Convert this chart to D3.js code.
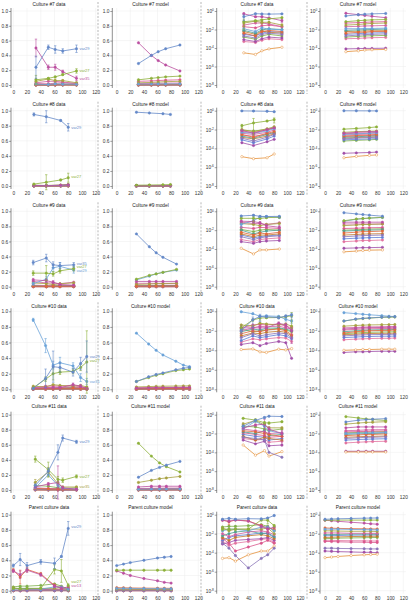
<!DOCTYPE html>
<html><head><meta charset="utf-8">
<script src="https://cdn.jsdelivr.net/npm/d3@7"></script>
<style>body{margin:0;background:#fff} text{font-family:"Liberation Sans",Arial,sans-serif}</style>
</head><body><svg id="c" width="410" height="604"></svg>
<script>
// ---------- DATA ----------
const cultureNames = ["Culture #7","Culture #8","Culture #9","Culture #10","Culture #11","Parent culture"];
const xTicks = [0,20,40,60,80,100,120];
const yTicksLin = [0,0.2,0.4,0.6,0.8,1.0];
const yTicksLog = [1,1e-2,1e-4,1e-6,1e-8];
const logTickExp = ["0","-2","-4","-6","-8"];

const t7 = [33,51,61,72,92], t7m = [32,51,61,72,93];
const t8 = [30,48,69,80], t8m = [29,48,68,79];
const t9 = [29,48,58,68,88];
const t10 = [29,47,58,68,87,98,107];
const t11 = [32,51,65,72,92], t11m = [32,51,63,73,93];
const tP = [0,10,20,40,60,70,80];

const c7Data = [
 [0.24,0.51,0.48,0.46,0.49],[0.07,0.09,0.11,0.14,0.19],[0.50,0.24,0.24,0.18,0.09],
 [0.012,0.006,0.015,0.011,0.009],[0.004,0.002,0.006,0.008,0.006],[0.05,0.08,0.06,0.06,0.03],
 [0.002,0.0012,0.003,0.004,0.003],[3e-5,2e-5,5e-5,8e-5,1.2e-4],[0.03,0.05,0.05,0.04,0.02],
 [0.008,0.004,0.009,0.012,0.01],[0.006,0.003,0.007,0.005,0.004],[0.02,0.015,0.025,0.03,0.02],
 [0.003,0.002,0.004,0.006,0.005],[8e-4,5e-4,1e-3,1.5e-3,1.2e-3],[1.5e-3,9e-4,2e-3,3e-3,2e-3],
 [5e-4,4e-4,7e-4,1e-3,8e-4]];
const c7Err = [[0.15,0.03,0.05,0.03,0.05],[0.06,0.01,0.01,0.01,0.03],[0.12,0.03,0.04,0.02,0.03],
 null,null,[0.03,0.01,0.02,0.01,0.01]];
const c7Model = [
 [0.29,0.40,0.45,0.49,0.54],[0.07,0.09,0.10,0.11,0.12],[0.57,0.40,0.33,0.27,0.19],
 [0.012,0.012,0.013,0.013,0.014],[0.004,0.005,0.005,0.006,0.006],[0.03,0.035,0.04,0.045,0.05],
 [0.002,0.0025,0.0028,0.003,0.0033],[4e-5,5e-5,6e-5,6.5e-5,7e-5],[0.02,0.022,0.024,0.025,0.027],
 [0.008,0.009,0.0095,0.01,0.011],[0.006,0.0065,0.007,0.0072,0.0075],[0.05,0.055,0.06,0.065,0.07],
 [0.003,0.0035,0.004,0.0042,0.0045],[8e-5,8.5e-5,9e-5,9e-5,9.5e-5],[1.5e-3,1.8e-3,2e-3,2.1e-3,2.3e-3],
 [1e-3,1.1e-3,1.2e-3,1.3e-3,1.4e-3]];
const c7Labels = [["var29",0,0.49],["var27",1,0.19],["var35",2,0.09]];

const c8Data = [
 [0.95,0.92,0.87,0.78],[0.025,0.05,0.08,0.11],[0.008,0.004,0.01,0.015],
 [0.005,0.004,0.007,0.012],[0.003,0.0015,0.004,0.006],[0.01,0.006,0.012,0.02],
 [1.2e-3,6e-4,1.5e-3,3e-3],[1.3e-5,8e-6,1e-5,2.5e-5],[0.004,0.003,0.005,0.009],
 [0.002,0.0012,0.003,0.005],[1.5e-3,1e-3,2e-3,3.5e-3],[0.006,0.005,0.009,0.014],
 [8e-4,4e-4,1e-3,2e-3],[4e-4,2e-4,5e-4,9e-4],[0.008,0.007,0.01,0.016],[2.5e-3,2e-3,3e-3,4e-3]];
const c8Err = [[0.02,0.08,0.01,0.05],[0.01,0.1,0.01,0.06]];
const c8Model = [
 [0.98,0.97,0.96,0.95],[0.011,0.013,0.016,0.019],[0.004,0.005,0.006,0.006],
 [0.003,0.0035,0.004,0.0045],[0.002,0.0023,0.0026,0.003],[0.005,0.006,0.0065,0.007],
 [1e-3,1.2e-3,1.4e-3,1.5e-3],[1e-5,1.4e-5,1.8e-5,2e-5],[2.5e-3,3e-3,3.3e-3,3.6e-3],
 [1.5e-3,1.7e-3,2e-3,2.2e-3],[1.2e-3,1.4e-3,1.6e-3,1.7e-3],[3.5e-3,4e-3,4.5e-3,5e-3],
 [8e-4,9e-4,1e-3,1.1e-3],[3e-5,3.3e-5,3.6e-5,4e-5],[6e-4,7e-4,8e-4,9e-4],[1.8e-3,2e-3,2.3e-3,2.5e-3]];
const c8Labels = [["var29",0,0.78],["var27",1,0.12]];

const c9Data = [
 [0.32,0.38,0.29,0.28,0.29],[0.18,0.18,0.17,0.21,0.24],[0.09,0.08,0.06,0.03,0.02],
 [0.04,0.10,0.25,0.27,0.22],[0.006,0.003,0.005,0.004,0.006],[0.05,0.04,0.03,0.04,0.05],
 [0.002,0.001,0.0015,0.002,0.0025],[1.2e-4,3e-5,8e-5,8e-5,1e-4],[0.07,0.05,0.05,0.04,0.06],
 [0.01,0.004,0.006,0.008,0.01],[0.004,0.002,0.003,0.003,0.004],[0.02,0.015,0.02,0.018,0.015],
 [0.003,0.0015,0.002,0.0025,0.003],[6e-4,4e-4,6e-4,7e-4,8e-4],[0.012,0.007,0.01,0.012,0.01],
 [1e-3,6e-4,1e-3,1.2e-3,1.5e-3]];
const c9Err = [[0.03,0.05,0.04,0.04,0.03],[0.03,0.1,0.03,0.03,0.03],[0.02,0.02,0.02,0.01,0.01],
 [0.02,0.04,0.05,0.05,0.04]];
const c9Model = [
 [0.70,0.53,0.45,0.39,0.30],[0.10,0.15,0.17,0.19,0.23],[0.07,0.07,0.07,0.07,0.07],
 [0.09,0.14,0.17,0.19,0.22],[0.005,0.006,0.007,0.007,0.008],[0.03,0.035,0.04,0.04,0.045],
 [0.002,0.0024,0.0026,0.0028,0.003],[5e-5,6e-5,7e-5,7.5e-5,8e-5],[0.045,0.045,0.045,0.045,0.045],
 [0.008,0.009,0.01,0.01,0.011],[0.003,0.0035,0.0038,0.004,0.0042],[0.015,0.016,0.017,0.018,0.019],
 [1.2e-3,1.4e-3,1.5e-3,1.6e-3,1.7e-3],[1.2e-4,1.3e-4,1.4e-4,1.4e-4,1.5e-4],[0.01,0.011,0.012,0.013,0.014],
 [6e-4,7e-4,8e-4,8e-4,9e-4]];
const c9Labels = [["var35",0,0.31],["var27",1,0.26],["var29",3,0.21]];

const c10Data = [
 [0.01,0.14,0.29,0.28,0.22,0.33,0.42],[0.02,0.13,0.20,0.22,0.23,0.28,0.35],[0.02,0.02,0.02,0.02,0.06,0.04,0.01],
 [0.89,0.56,0.31,0.34,0.30,0.15,0.10],[0.005,0.01,0.008,0.012,0.015,0.01,0.004],[0.04,0.03,0.06,0.05,0.04,0.05,0.03],
 [0.002,0.005,0.003,0.004,0.006,0.005,0.002],[1.2e-4,1.4e-4,7e-5,6e-5,1.3e-4,1.1e-4,1.5e-4],[0.01,0.02,0.03,0.025,0.03,0.02,0.015],
 [0.008,0.015,0.012,0.018,0.02,0.015,0.01],[0.003,0.006,0.005,0.007,0.009,0.007,0.003],[0.02,0.04,0.045,0.04,0.05,0.03,0.02],
 [1e-3,3e-3,2e-3,2.5e-3,4e-3,3e-3,1.5e-3],[4e-4,6e-4,3e-4,5e-4,8e-4,6e-4,1.5e-5],[0.015,0.008,0.01,0.012,0.018,0.012,0.008],
 [7e-4,1.5e-3,1.2e-3,1.5e-3,2e-3,1.8e-3,8e-4]];
const c10Err = [[0.005,0.12,0.2,0.06,0.05,0.08,0.2],[0.01,0.03,0.08,0.03,0.03,0.04,0.4],[0.01,0.01,0.01,0.01,0.02,0.02,0.01],
 [0.02,0.09,0.05,0.07,0.04,0.05,0.04]];
const c10Model = [
 [0.10,0.16,0.19,0.21,0.25,0.27,0.28],[0.10,0.15,0.18,0.20,0.24,0.25,0.26],[0.015,0.018,0.02,0.021,0.022,0.023,0.023],
 [0.72,0.58,0.50,0.44,0.36,0.31,0.29],[0.006,0.008,0.009,0.01,0.011,0.011,0.012],[0.03,0.035,0.038,0.04,0.042,0.043,0.044],
 [0.003,0.0035,0.0038,0.004,0.0042,0.0043,0.0044],[1e-4,1.1e-4,1.2e-4,1.2e-4,1.3e-4,1.3e-4,1.3e-4],[0.02,0.022,0.024,0.025,0.026,0.027,0.027],
 [0.008,0.01,0.011,0.012,0.013,0.013,0.014],[0.004,0.0045,0.005,0.0052,0.0055,0.0056,0.0057],[0.012,0.014,0.015,0.016,0.017,0.017,0.018],
 [2e-3,2.3e-3,2.5e-3,2.6e-3,2.8e-3,2.8e-3,2.9e-3],[6e-5,7e-5,7e-5,7.5e-5,8e-5,8e-5,8e-5],[0.005,0.006,0.0065,0.007,0.0075,0.0077,0.008],
 [1.2e-3,1.4e-3,1.5e-3,1.6e-3,1.7e-3,1.7e-3,1.8e-3]];
const c10Labels = [["var29",0,0.42],["var27",1,0.37],["var31",3,0.10]];

const c11Data = [
 [0.06,0.25,0.50,0.69,0.64],[0.41,0.27,0.14,0.13,0.18],[0.04,0.08,0.10,0.03,0.01],
 [0.03,0.20,0.06,0.02,0.01],[0.02,0.015,0.01,0.008,0.005],[0.10,0.24,0.08,0.04,0.04],
 [0.004,0.003,0.002,1e-4,3e-5],[6e-4,5e-5,1.5e-4,4e-5,1.2e-4],[0.03,0.02,0.015,0.01,0.012],
 [0.015,0.01,0.02,0.006,0.008],[0.005,0.002,0.004,0.003,0.002],[0.012,0.008,0.006,0.004,0.005],
 [0.008,0.005,0.004,0.002,0.003],[2e-3,8e-4,1.5e-3,5e-4,6e-4],[0.06,0.05,0.03,0.02,0.03],
 [3e-3,2e-3,2.5e-3,1.2e-3,1.5e-3]];
const c11Err = [[0.02,0.04,0.1,0.04,0.02],[0.04,0.1,0.04,0.03,0.02],[0.01,0.02,0.22,0.02,0.01],
 null,null,[0.04,0.06,0.03,0.01,0.01]];
const c11Model = [
 [0.17,0.26,0.30,0.33,0.38],[0.62,0.45,0.36,0.31,0.24],[0.04,0.05,0.05,0.05,0.05],
 [0.01,0.011,0.012,0.012,0.013],[0.006,0.007,0.008,0.008,0.009],[0.10,0.13,0.15,0.16,0.18],
 [0.003,0.0035,0.004,0.004,0.0045],[1.1e-4,1.1e-4,1.1e-4,1.1e-4,1.1e-4],[0.02,0.022,0.024,0.025,0.026],
 [0.008,0.009,0.01,0.01,0.011],[0.004,0.0045,0.005,0.005,0.0055],[0.015,0.016,0.017,0.018,0.019],
 [2e-3,2.3e-3,2.5e-3,2.6e-3,2.8e-3],[1.3e-4,1.3e-4,1.3e-4,1.3e-4,1.3e-4],[0.012,0.013,0.014,0.015,0.016],
 [1e-3,1.2e-3,1.3e-3,1.4e-3,1.5e-3]];
const c11Labels = [["var29",0,0.64],["var27",1,0.18],["var35",5,0.04]];

const cPData = [
 [0.33,0.41,0.33,0.38,0.36,0.45,0.82],[0.03,0.03,0.03,0.03,0.28,0.26,0.07],[0.26,0.21,0.27,0.21,0.06,0.03,0.05],
 [0.02,0.03,0.03,0.02,0.05,0.05,0.02],[0.27,0.18,0.28,0.22,0.07,0.04,0.03],[0.04,0.02,0.03,0.03,0.03,0.04,0.01],
 [1e-3,3e-4,5e-5,2.5e-6,2.5e-5,6e-5,3e-4],[2.5e-5,3e-5,1.3e-5,6e-5,1.5e-4,1.5e-4,5e-4],[0.01,0.005,0.008,0.015,0.02,0.015,0.008],
 [0.006,0.01,0.015,0.02,0.01,0.012,0.005],[0.004,0.002,0.004,0.006,0.008,0.006,0.003],[3e-3,1e-3,1.5e-4,4e-4,1e-3,2e-3,1e-3],
 [0.002,0.004,0.006,0.008,0.012,0.01,0.004],[8e-4,1.2e-3,2e-3,2.5e-3,3e-3,4e-3,2e-3],[0.05,0.06,0.06,0.07,0.09,0.06,0.02],
 [1.5e-3,6e-4,1e-3,1.5e-3,2.5e-3,3e-3,1.2e-3]];
const cPErr = [[0.02,0.08,0.04,0.03,0.07,0.01,0.09],[0.01,0.01,0.01,0.01,0.06,0.15,0.02],[0.02,0.05,0.03,0.02,0.02,0.02,0.01],
 null,[0.02,0.09,0.03,0.02,0.02,0.02,0.01]];
const cPModel = [
 [0.33,0.35,0.37,0.40,0.43,0.44,0.45],[0.27,0.27,0.27,0.27,0.27,0.27,0.27],[0.26,0.23,0.20,0.16,0.13,0.11,0.10],
 [0.03,0.03,0.03,0.028,0.027,0.026,0.025],[0.04,0.038,0.036,0.034,0.033,0.032,0.031],[0.02,0.02,0.019,0.018,0.018,0.018,0.017],
 [3e-4,3e-4,2.8e-4,2.7e-4,2.6e-4,2.5e-4,2.5e-4],[3e-5,3.5e-5,4e-5,5e-5,6e-5,6.5e-5,7e-5],[0.012,0.012,0.012,0.011,0.011,0.011,0.011],
 [0.008,0.008,0.0085,0.009,0.009,0.009,0.009],[0.004,0.0042,0.0045,0.005,0.0052,0.0053,0.0054],[1.5e-3,1.5e-3,1.4e-3,1.3e-3,1.3e-3,1.2e-3,1.2e-3],
 [0.006,0.0062,0.0065,0.007,0.0072,0.0073,0.0074],[1.5e-4,1.4e-4,1.3e-4,1.2e-4,1.1e-4,1.1e-4,1e-4],[0.003,0.0032,0.0034,0.0036,0.0038,0.0039,0.004],
 [2e-3,2e-3,1.9e-3,1.8e-3,1.8e-3,1.7e-3,1.7e-3]];
const cPLabels = [["var29",0,0.84],["var27",1,0.12],["var13",2,0.06]];

const palette = ["#6489c8","#8db03a","#bb4fa0","#6aa2d8","#e0663a","#a6a040","#8a75b8","#e4903a",
  "#d0609e","#4f9e92","#c0782e","#d9568c","#5f7fd6","#a04fa8","#7eb04a","#e2739f"];

// ---------- LAYOUT ----------
const rowTop = [11,110.7,211.3,311.3,414.7,514.7];
const rowBot = [85,186,286.7,389.3,490,590.7];
const titleY = [4,104,205,306,406,507];
const cols = [{axis:11,x0:13.3,x1:95.7,cx:49},{axis:112.3,x0:116.7,x1:198.3,cx:150.5},
              {axis:216.7,x0:222.5,x1:300,cx:257},{axis:320,x0:325,x1:403.3,cx:358}];
const dashX = [98,201,307];

const cultures = [
 {t:t7,tm:t7m,d:c7Data,e:c7Err,m:c7Model,l:c7Labels},
 {t:t8,tm:t8m,d:c8Data,e:c8Err,m:c8Model,l:c8Labels},
 {t:t9,tm:t9,d:c9Data,e:c9Err,m:c9Model,l:c9Labels},
 {t:t10,tm:t10,d:c10Data,e:c10Err,m:c10Model,l:c10Labels},
 {t:t11,tm:t11m,d:c11Data,e:c11Err,m:c11Model,l:c11Labels},
 {t:tP,tm:tP,d:cPData,e:cPErr,m:cPModel,l:cPLabels}];

const svg = d3.select("#c");
const FS = 4.8;

function drawPanel(ci, ri, title, times, series, errs, isLog, labels){
  const C = cols[ci], top = rowTop[ri], bot = rowBot[ri];
  const x = d3.scaleLinear().domain([0,120]).range([C.x0,C.x1]);
  const y = isLog ? d3.scaleLog().domain([1e-8,1]).range([bot,top]).clamp(true)
                  : d3.scaleLinear().domain([0,1]).range([bot,top]);
  const yt = isLog ? yTicksLog : yTicksLin;
  const g = svg.append("g");
  // grid
  g.selectAll(null).data(xTicks).join("line")
    .attr("x1",d=>x(d)).attr("x2",d=>x(d)).attr("y1",top-3).attr("y2",bot+3)
    .attr("stroke","#ececec").attr("stroke-width",0.5);
  g.selectAll(null).data(yt).join("line")
    .attr("x1",C.axis).attr("x2",x(124)).attr("y1",d=>y(d)).attr("y2",d=>y(d))
    .attr("stroke","#ececec").attr("stroke-width",0.5);
  // title
  g.append("text").attr("x",C.cx).attr("y",titleY[ri]+1.7).attr("text-anchor","middle")
    .attr("font-size",FS).attr("fill","#222").text(title);
  // y axis
  const ay = d3.axisLeft(y).tickValues(yt).tickSize(2).tickSizeOuter(0).tickPadding(0.8);
  if(!isLog) ay.tickFormat(d3.format(".1f")); else ay.tickFormat(()=>"10");
  const gy = g.append("g").attr("transform",`translate(${C.axis},0)`).call(ay);
  gy.select(".domain").remove();
  gy.selectAll("line").attr("stroke","#444").attr("stroke-width",0.5);
  gy.selectAll("text").attr("font-size",FS).attr("fill","#333").attr("font-family","Liberation Sans, Arial, sans-serif");
  if(isLog){
    gy.selectAll(".tick text").each(function(d,i){
      d3.select(this).append("tspan").attr("dy",-1.8).attr("font-size",3.2).text(logTickExp[i]);
    });
  }
  g.append("line").attr("x1",C.axis).attr("x2",C.axis).attr("y1",top-3).attr("y2",bot+3)
    .attr("stroke","#444").attr("stroke-width",0.6);
  // x axis labels
  const ax = d3.axisBottom(x).tickValues(xTicks).tickSize(0).tickPadding(6);
  const gx = g.append("g").attr("transform",`translate(0,${bot})`).call(ax);
  gx.select(".domain").remove();
  gx.selectAll("text").attr("font-size",FS).attr("fill","#333").attr("font-family","Liberation Sans, Arial, sans-serif");
  // series
  const line = d3.line().x((d,i)=>x(times[i])).y(d=>y(d));
  for(let s=series.length-1;s>=0;s--){
    const vals = series[s], col = palette[s % palette.length];
    const sg = g.append("g");
    const er = errs ? errs[s] : null;
    if(er){
      vals.forEach((v,i)=>{
        let lo = v-er[i], hi = v+er[i];
        if(isLog) lo = Math.max(lo, v*0.05);
        sg.append("line").attr("x1",x(times[i])).attr("x2",x(times[i]))
          .attr("y1",y(lo)).attr("y2",y(hi)).attr("stroke",col).attr("stroke-width",0.6);
        [lo,hi].forEach(b=>sg.append("line").attr("x1",x(times[i])-1.2).attr("x2",x(times[i])+1.2)
          .attr("y1",y(b)).attr("y2",y(b)).attr("stroke",col).attr("stroke-width",0.6));
      });
    }
    sg.append("path").attr("d",line(vals)).attr("fill","none").attr("stroke",col).attr("stroke-width",0.8);
    sg.selectAll("circle").data(vals).join("circle")
      .attr("cx",(d,i)=>x(times[i])).attr("cy",d=>y(d)).attr("r",1.2)
      .attr("fill", s===7 && isLog ? "#fff" : col).attr("stroke",col).attr("stroke-width",0.5);
  }
  if(labels){
    labels.forEach(([txt,si,yv])=>{
      g.append("text").attr("x",x(times[times.length-1])+3).attr("y",y(yv)+1.3)
        .attr("font-size",4).attr("fill",palette[si]).text(txt);
    });
  }
}

cultures.forEach((c,ri)=>{
  const nm = cultureNames[ri];
  drawPanel(0,ri,nm+" data",c.t,c.d,c.e,false,c.l);
  drawPanel(1,ri,nm+" model",c.tm,c.m,null,false,null);
  drawPanel(2,ri,nm+" data",c.t,c.d,c.e,true,null);
  drawPanel(3,ri,nm+" model",c.tm,c.m,null,true,null);
  dashX.forEach(dx=>svg.append("line").attr("x1",dx).attr("x2",dx)
    .attr("y1",rowTop[ri]-9).attr("y2",rowBot[ri]+9)
    .attr("stroke","#999").attr("stroke-width",0.7).attr("stroke-dasharray","2,1.5"));
});
</script></body></html>
